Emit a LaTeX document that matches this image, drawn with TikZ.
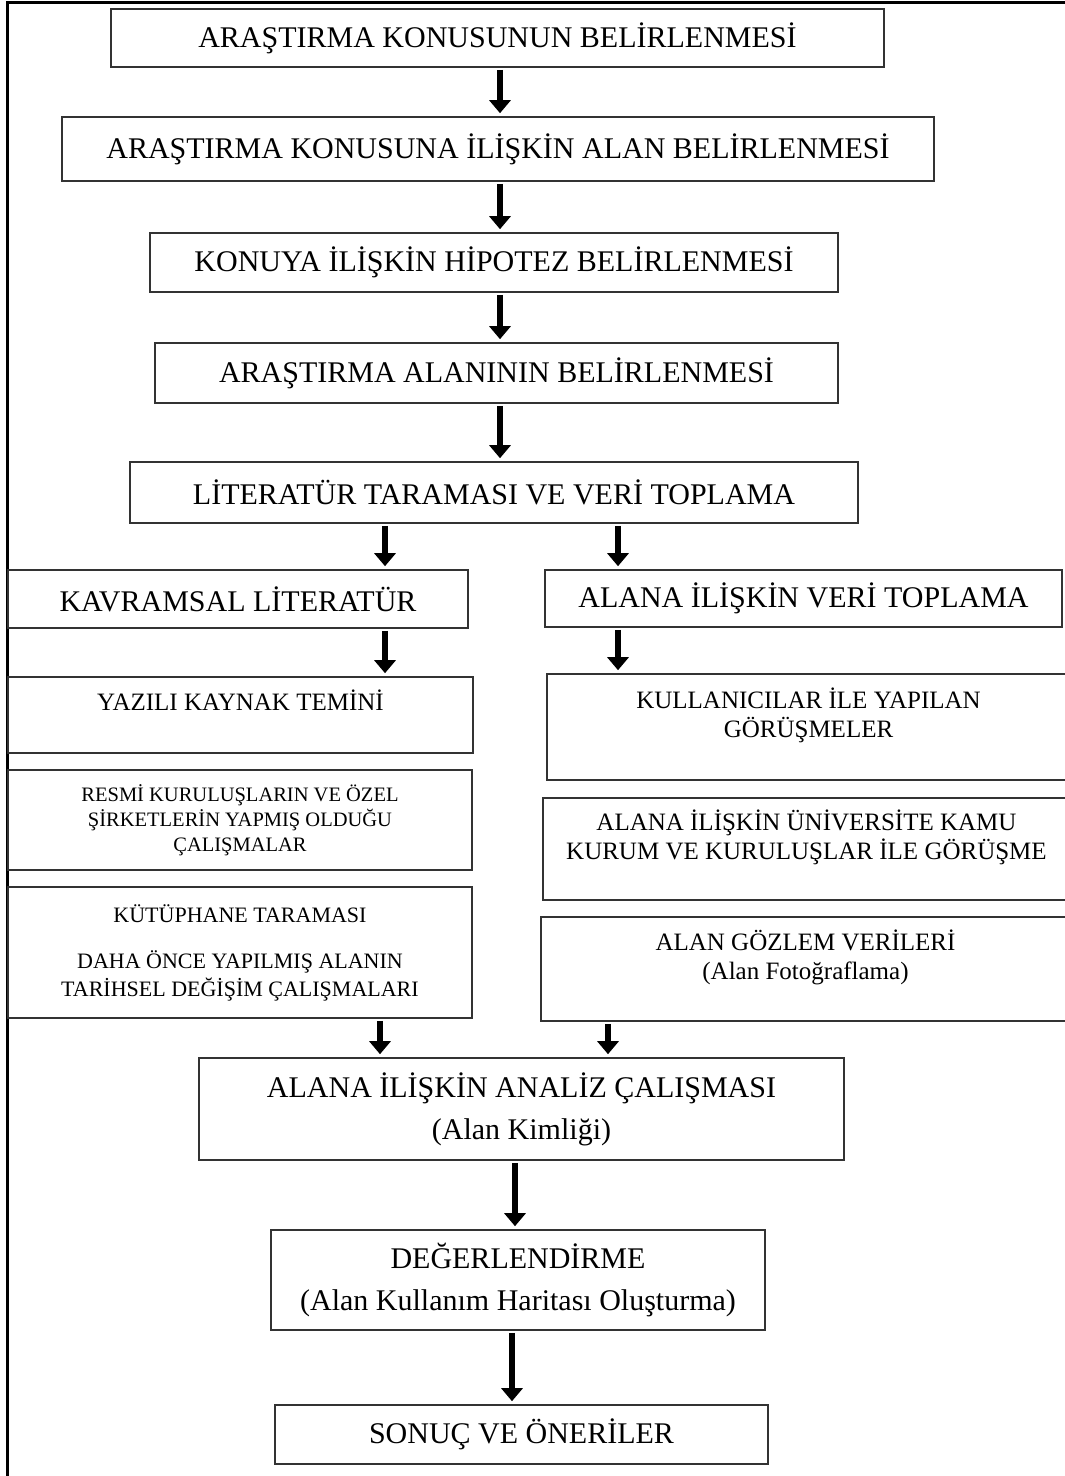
\documentclass[tikz,border=0pt]{standalone}
\usepackage{fontspec}
\setmainfont{Liberation Serif}
\usetikzlibrary{arrows.meta}

\begin{document}
\begin{tikzpicture}[x=1pt,y=-1pt,
    box/.style={draw=black!80,line width=1.6pt,align=center,inner sep=0pt,
      font=\fontsize{30}{42}\selectfont},
    mid/.style={font=\fontsize{25}{29}\selectfont},
    small/.style={font=\fontsize{20.5}{25}\selectfont},
    arr/.style={line width=6.5pt,-{Triangle[length=13pt,width=21pt]},
      shorten <=2pt,shorten >=3pt}]
  \useasboundingbox (0,0) rectangle (1065,1476);
  \draw[line width=3pt] (1065,2) -- (7,2) -- (7,1476);
  % main column
  \node[box,minimum width=773pt,minimum height=58pt] (konu) at (497.5,38)
    {ARAŞTIRMA KONUSUNUN BELİRLENMESİ};
  \node[box,minimum width=872pt,minimum height=64pt] (alan) at (498,149)
    {ARAŞTIRMA KONUSUNA İLİŞKİN ALAN BELİRLENMESİ};
  \node[box,minimum width=688pt,minimum height=59pt] (hipotez) at (494,262.5)
    {KONUYA İLİŞKİN HİPOTEZ BELİRLENMESİ};
  \node[box,minimum width=683pt,minimum height=60pt] (alanin) at (496.5,373)
    {ARAŞTIRMA ALANININ BELİRLENMESİ};
  \node[box,minimum width=728pt,minimum height=61pt] (litera) at (494,492.5)
    {LİTERATÜR TARAMASI VE VERİ TOPLAMA};
  % two columns
  \node[box,minimum width=460pt,minimum height=58pt] (kavram) at (238,599)
    {KAVRAMSAL LİTERATÜR};
  \node[box,minimum width=517pt,minimum height=57pt] (veri) at (803.5,598.5)
    {ALANA İLİŞKİN VERİ TOPLAMA};
  \node[box,mid,minimum width=465pt,minimum height=76pt] (yazili) at (240.5,715)
    {YAZILI KAYNAK TEMİNİ\\ \mbox{}};
  \node[box,mid,minimum width=523pt,minimum height=106pt] (kullanici) at (808.5,727)
    {KULLANICILAR İLE YAPILAN\\GÖRÜŞMELER\\ \mbox{}};
  \node[box,small,minimum width=464pt,minimum height=100pt] (resmi) at (240,820)
    {RESMİ KURULUŞLARIN VE ÖZEL\\ŞİRKETLERİN YAPMIŞ OLDUĞU\\ÇALIŞMALAR};
  \node[box,mid,minimum width=527pt,minimum height=102pt] (univ) at (806.5,849)
    {ALANA İLİŞKİN ÜNİVERSİTE KAMU\\KURUM VE KURULUŞLAR İLE GÖRÜŞME\\ \mbox{}};
  \node[box,font=\fontsize{22}{28}\selectfont,minimum width=464pt,
    minimum height=131pt] (kutup) at (240,952.5)
    {KÜTÜPHANE TARAMASI\\[18pt]DAHA ÖNCE YAPILMIŞ ALANIN\\TARİHSEL DEĞİŞİM ÇALIŞMALARI};
  \node[box,mid,minimum width=529pt,minimum height=104pt] (gozlem) at (805.5,969)
    {ALAN GÖZLEM VERİLERİ\\(Alan Fotoğraflama)\\ \mbox{}};
  % lower column
  \node[box,minimum width=645pt,minimum height=102pt] (analiz) at (521.5,1109)
    {ALANA İLİŞKİN ANALİZ ÇALIŞMASI\\(Alan Kimliği)};
  \node[box,minimum width=494pt,minimum height=100pt] (deger) at (518,1280)
    {DEĞERLENDİRME\\(Alan Kullanım Haritası Oluşturma)};
  \node[box,minimum width=493pt,minimum height=59pt] (sonuc) at (521.5,1434.5)
    {SONUÇ VE ÖNERİLER};
  % arrows
  \draw[arr] (500,0 |- konu.south) -- (500,0 |- alan.north);
  \draw[arr] (500,0 |- alan.south) -- (500,0 |- hipotez.north);
  \draw[arr] (500,0 |- hipotez.south) -- (500,0 |- alanin.north);
  \draw[arr] (500,0 |- alanin.south) -- (500,0 |- litera.north);
  \draw[arr] (385,0 |- litera.south) -- (385,0 |- kavram.north);
  \draw[arr] (618,0 |- litera.south) -- (618,0 |- veri.north);
  \draw[arr] (385,0 |- kavram.south) -- (385,0 |- yazili.north);
  \draw[arr] (618,0 |- veri.south) -- (618,0 |- kullanici.north);
  \draw[arr] (380,0 |- kutup.south) -- (380,0 |- analiz.north);
  \draw[arr] (608,0 |- gozlem.south) -- (608,0 |- analiz.north);
  \draw[arr] (515,0 |- analiz.south) -- (515,0 |- deger.north);
  \draw[arr] (512,0 |- deger.south) -- (512,0 |- sonuc.north);
\end{tikzpicture}
\end{document}
